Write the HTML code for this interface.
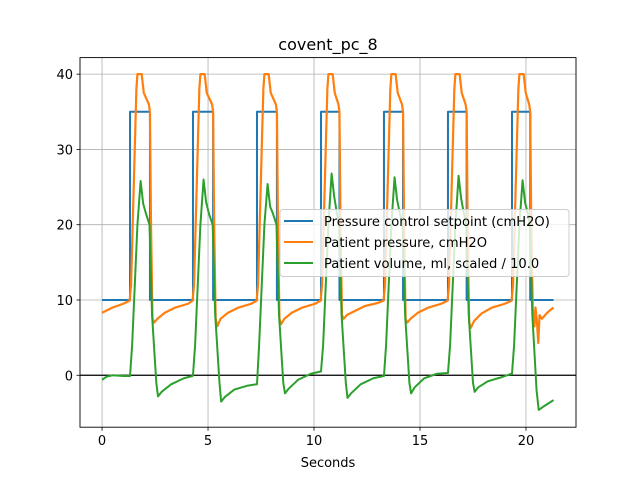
<!DOCTYPE html>
<html><head><meta charset="utf-8"><style>
body{margin:0;background:#fff;}
svg text{font-family:"DejaVu Sans","Liberation Sans",sans-serif;}
</style></head><body>
<svg id="chart" width="640" height="480" xmlns="http://www.w3.org/2000/svg">
<rect width="640" height="480" fill="#fff"/>
<g id="grid"></g>
<line x1="80" x2="576" y1="375" y2="375" stroke="#000" stroke-width="1.3" id="zl"/>
<g id="series"></g>
<rect x="80" y="57.6" width="496" height="369.6" fill="none" stroke="#000" stroke-width="0.9"/>
<g id="ticks"></g>
<text x="328" y="50" font-size="16" text-anchor="middle">covent_pc_8</text>
<text x="328" y="467" font-size="13" text-anchor="middle">Seconds</text>
<g>
<rect x="280" y="209.5" width="289" height="67" rx="3" fill="#fff" fill-opacity="0.8" stroke="#ccc" stroke-width="1"/>
<g><line x1="284" x2="313" y1="221" y2="221" stroke="#1f77b4" stroke-width="2"/><text x="324" y="226" font-size="13.1">Pressure control setpoint (cmH2O)</text></g>
<g><line x1="284" x2="313" y1="242" y2="242" stroke="#ff7f0e" stroke-width="2"/><text x="324" y="247" font-size="13.1">Patient pressure, cmH2O</text></g>
<g><line x1="284" x2="313" y1="263" y2="263" stroke="#2ca02c" stroke-width="2"/><text x="324" y="268" font-size="13.1">Patient volume, ml, scaled / 10.0</text></g>
</g>
</svg>
<script>
const xTicks=[0,5,10,15,20];
const yTicks=[0,10,20,30,40];
const setpointRise=[1.32,4.29,7.31,10.33,13.30,16.32,19.34];
const setpointFall=[2.26,5.24,8.25,11.20,14.20,17.20,20.20];
const setpointLow=10, setpointHigh=35, setpointStart=0, setpointEnd=21.3;
const pressurePts=[[0,8.3],[0.5,9],[1.0,9.5],
[1.30,9.9],[1.37,12],[1.62,38],[1.67,40],[1.87,40],[1.97,37.5],[2.21,36],[2.26,35],[2.31,20],[2.38,7.5],[2.46,7.0],[2.61,7.5],[2.96,8.3],[3.46,9],[4.06,9.5],
[4.27,9.9],[4.34,12],[4.59,38],[4.64,40],[4.84,40],[4.94,37.5],[5.19,36],[5.24,35],[5.29,20],[5.36,7.5],[5.44,6.5],[5.59,7.5],[5.94,8.3],[6.44,9],[7.04,9.5],
[7.29,9.9],[7.36,12],[7.61,38],[7.66,40],[7.86,40],[7.96,37.5],[8.20,36],[8.25,35],[8.30,20],[8.37,7.5],[8.45,6.8],[8.60,7.5],[8.95,8.3],[9.45,9],[10.05,9.5],
[10.31,9.9],[10.38,12],[10.63,38],[10.68,40],[10.88,40],[10.98,37.5],[11.15,36],[11.20,35],[11.25,20],[11.32,8],[11.40,7.5],[11.55,8],[11.90,8.5],[12.40,9.2],[13.0,9.6],
[13.28,9.9],[13.35,12],[13.60,38],[13.65,40],[13.85,40],[13.95,37.5],[14.15,36],[14.20,35],[14.25,20],[14.32,7.5],[14.40,7.0],[14.55,7.5],[14.90,8.3],[15.40,9],[16.0,9.5],
[16.30,9.9],[16.37,12],[16.62,38],[16.67,40],[16.87,40],[16.97,37.5],[17.15,36],[17.20,35],[17.25,20],[17.32,7.0],[17.40,6.3],[17.55,7.2],[17.90,8.2],[18.40,9],[19.0,9.5],
[19.32,9.9],[19.39,12],[19.64,38],[19.69,40],[19.89,40],[19.99,37.5],[20.15,36],[20.20,35],[20.25,20],[20.32,9],[20.40,6.5],[20.45,9],[20.52,7],[20.58,4.3],[20.64,8],[20.75,7.5],[21.0,8.3],[21.3,9]];
const volumePts=[[0,-0.6],[0.2,-0.2],[0.5,0],[1.0,-0.1],
[1.32,-0.1],[1.42,4],[1.67,20],[1.82,25.8],[1.94,22.8],[2.07,21.5],[2.24,20],[2.36,8],[2.56,-1],[2.64,-2.8],[2.81,-2.2],[3.26,-1.2],[3.86,-0.4],[4.27,-0.1],
[4.29,0],[4.39,4],[4.64,20],[4.79,26.0],[4.91,23],[5.04,21.5],[5.22,20],[5.34,8],[5.54,-1],[5.62,-3.5],[5.79,-2.9],[6.24,-1.9],[6.84,-1.4],[7.29,-1.2],
[7.31,-1.2],[7.41,4],[7.66,20],[7.81,25.4],[7.93,22.4],[8.06,21.5],[8.23,20],[8.35,8],[8.55,-1],[8.63,-2.4],[8.80,-1.8],[9.25,-0.6],[9.85,0.2],[10.31,0.5],
[10.33,0.5],[10.43,4],[10.68,20],[10.83,26.8],[10.95,23.8],[11.08,21.5],[11.18,20],[11.30,8],[11.50,-1],[11.58,-3.0],[11.75,-2.4],[12.20,-1.2],[12.80,-0.4],[13.28,-0.1],
[13.30,-0.1],[13.40,4],[13.65,20],[13.80,26.3],[13.92,23.3],[14.05,21.5],[14.18,20],[14.30,8],[14.50,-1],[14.58,-2.4],[14.75,-1.6],[15.20,-0.4],[15.80,0.2],[16.30,0.3],
[16.32,0.3],[16.42,4],[16.67,20],[16.82,26.5],[16.94,23.5],[17.07,21.5],[17.18,20],[17.30,8],[17.50,-1],[17.58,-2.2],[17.75,-1.6],[18.20,-0.8],[18.80,-0.3],[19.32,0.2],
[19.34,0.2],[19.44,4],[19.69,20],[19.84,25.9],[19.96,22.9],[20.09,21.5],[20.18,20],[20.30,8],[20.50,-2],[20.60,-4.6],[20.80,-4.2],[21.3,-3.3]];

const X0=80,X1=576,Y0=427.2,Y1=57.6,xmin=-1.04,xmax=22.36,ymin=-6.9,ymax=42.2;
const sx=t=>X0+(t-xmin)/(xmax-xmin)*(X1-X0);
const sy=v=>Y0-(v-ymin)/(ymax-ymin)*(Y0-Y1);
const NS="http://www.w3.org/2000/svg";
function mk(tag,attrs,parent){const e=document.createElementNS(NS,tag);for(const k in attrs)e.setAttribute(k,attrs[k]);parent.appendChild(e);return e;}
const grid=document.getElementById('grid'),ticks=document.getElementById('ticks'),series=document.getElementById('series');
document.getElementById('zl').setAttribute('y1',sy(0));document.getElementById('zl').setAttribute('y2',sy(0));
xTicks.forEach(t=>{const x=sx(t);
 const g=mk('line',{x1:x,x2:x,y1:Y1,y2:Y0,stroke:'#b0b0b0','stroke-width':0.8},grid);
 
 
 mk('line',{x1:x,x2:x,y1:Y0,y2:Y0+3.5,stroke:'#000','stroke-width':0.8},ticks);
 const tx=mk('text',{x:x,y:Y0+18,'font-size':13,'text-anchor':'middle'},ticks);tx.textContent=t;
 
 
});
yTicks.forEach(v=>{const y=sy(v);
 const g=mk('line',{x1:X0,x2:X1,y1:y,y2:y,stroke:'#b0b0b0','stroke-width':0.8},grid);
 
 
 mk('line',{x1:X0-3.5,x2:X0,y1:y,y2:y,stroke:'#000','stroke-width':0.8},ticks);
 const tx=mk('text',{x:X0-7,y:y+5,'font-size':13,'text-anchor':'end'},ticks);tx.textContent=v;
 
 
});
let sp=[[setpointStart,setpointLow]];
setpointRise.forEach((r,i)=>{const f=setpointFall[i];sp.push([r,setpointLow],[r,setpointHigh],[f,setpointHigh],[f,setpointLow]);});
sp.push([setpointEnd,setpointLow]);
function path(pts,color,w,name){const d=pts.map((p,i)=>(i?'L':'M')+sx(p[0]).toFixed(2)+','+sy(p[1]).toFixed(2)).join('');
 const e=mk('path',{d:d,fill:'none',stroke:color,'stroke-width':w,'stroke-linejoin':'round'},series);
 
 }
path(sp,'#1f77b4',2,'setpoint-line');
path(pressurePts,'#ff7f0e',2.2,'pressure-line');
path(volumePts,'#2ca02c',2,'volume-line');
</script>
</body></html>
